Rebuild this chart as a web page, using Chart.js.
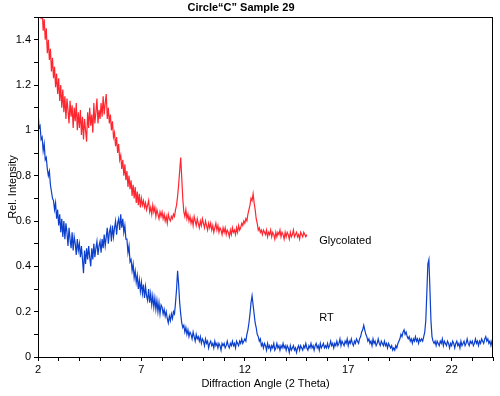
<!DOCTYPE html>
<html>
<head>
<meta charset="utf-8">
<script src="https://cdn.jsdelivr.net/npm/chart.js@4/dist/chart.umd.min.js"></script>
<style>
  html, body { margin: 0; padding: 0; background: #fff; }
  canvas { display: block; }
</style>
</head>
<body>
<canvas id="xrd" width="500" height="396"></canvas>
<script>
// scan grid: 2 theta from 2 degrees, one reading every 0.05 degree
const angleStart = 2.0
const angleStep = 0.05

// one row per degree (20 readings)
const rtValues = [
  1.09, 1.01, 1.02, 0.96, 0.97, 0.91, 0.94, 0.87, 0.88, 0.83, 0.80, 0.82, 0.76, 0.73, 0.70, 0.69, 0.65, 0.68, 0.61, 0.65,
  0.58, 0.63, 0.55, 0.61, 0.53, 0.60, 0.52, 0.59, 0.55, 0.49, 0.57, 0.52, 0.48, 0.55, 0.47, 0.53, 0.50, 0.45, 0.52, 0.47,
  0.50, 0.44, 0.49, 0.43, 0.37, 0.47, 0.41, 0.48, 0.43, 0.49, 0.44, 0.40, 0.48, 0.43, 0.50, 0.44, 0.48, 0.51, 0.45, 0.49,
  0.51, 0.46, 0.52, 0.48, 0.54, 0.49, 0.53, 0.57, 0.50, 0.55, 0.57, 0.51, 0.58, 0.53, 0.57, 0.60, 0.54, 0.59, 0.61, 0.56,
  0.63, 0.57, 0.61, 0.55, 0.58, 0.52, 0.52, 0.46, 0.49, 0.42, 0.43, 0.38, 0.41, 0.35, 0.38, 0.33, 0.36, 0.30, 0.34, 0.29,
  0.33, 0.28, 0.32, 0.26, 0.31, 0.27, 0.25, 0.30, 0.24, 0.28, 0.23, 0.27, 0.22, 0.26, 0.21, 0.25, 0.20, 0.24, 0.19, 0.23,
  0.22, 0.19, 0.21, 0.18, 0.20, 0.17, 0.15, 0.18, 0.16, 0.19, 0.17, 0.20, 0.19, 0.24, 0.30, 0.38, 0.32, 0.24, 0.19, 0.15,
  0.13, 0.14, 0.11, 0.13, 0.10, 0.12, 0.09, 0.11, 0.10, 0.08, 0.11, 0.09, 0.07, 0.10, 0.08, 0.09, 0.07, 0.09, 0.06, 0.08,
  0.07, 0.05, 0.08, 0.06, 0.07, 0.04, 0.06, 0.07, 0.05, 0.06, 0.04, 0.07, 0.05, 0.06, 0.04, 0.06, 0.05, 0.03, 0.06, 0.05,
  0.06, 0.04, 0.05, 0.07, 0.05, 0.04, 0.06, 0.05, 0.07, 0.05, 0.06, 0.04, 0.07, 0.06, 0.05, 0.07, 0.06, 0.08, 0.06, 0.07,
  0.08, 0.07, 0.10, 0.12, 0.15, 0.19, 0.24, 0.27, 0.23, 0.19, 0.15, 0.13, 0.10, 0.09, 0.07, 0.08, 0.05, 0.06, 0.04, 0.06,
  0.05, 0.03, 0.06, 0.04, 0.05, 0.03, 0.05, 0.04, 0.06, 0.03, 0.04, 0.06, 0.04, 0.05, 0.03, 0.05, 0.04, 0.06, 0.04, 0.05,
  0.03, 0.05, 0.04, 0.02, 0.05, 0.03, 0.04, 0.05, 0.03, 0.04, 0.02, 0.04, 0.05, 0.03, 0.05, 0.04, 0.03, 0.05, 0.04, 0.06,
  0.04, 0.03, 0.05, 0.04, 0.06, 0.04, 0.05, 0.03, 0.05, 0.06, 0.04, 0.05, 0.03, 0.06, 0.04, 0.05, 0.06, 0.04, 0.05, 0.04,
  0.06, 0.04, 0.05, 0.07, 0.05, 0.06, 0.04, 0.06, 0.05, 0.07, 0.05, 0.06, 0.08, 0.05, 0.07, 0.06, 0.05, 0.07, 0.06, 0.08,
  0.05, 0.07, 0.06, 0.08, 0.06, 0.05, 0.07, 0.06, 0.08, 0.07, 0.06, 0.08, 0.09, 0.11, 0.12, 0.14, 0.12, 0.10, 0.09, 0.07,
  0.08, 0.06, 0.07, 0.05, 0.08, 0.06, 0.07, 0.05, 0.06, 0.08, 0.06, 0.05, 0.07, 0.06, 0.05, 0.07, 0.05, 0.06, 0.04, 0.06,
  0.05, 0.04, 0.05, 0.03, 0.04, 0.03, 0.05, 0.04, 0.06, 0.07, 0.08, 0.10, 0.09, 0.11, 0.12, 0.10, 0.11, 0.09, 0.08, 0.09,
  0.07, 0.08, 0.06, 0.08, 0.07, 0.09, 0.07, 0.08, 0.06, 0.08, 0.07, 0.08, 0.07, 0.09, 0.11, 0.16, 0.28, 0.41, 0.43, 0.30,
  0.16, 0.09, 0.07, 0.06, 0.07, 0.05, 0.07, 0.06, 0.05, 0.07, 0.06, 0.08, 0.05, 0.07, 0.06, 0.05, 0.07, 0.06, 0.04, 0.06,
  0.05, 0.07, 0.06, 0.04, 0.06, 0.07, 0.05, 0.06, 0.04, 0.07, 0.05, 0.06, 0.07, 0.05, 0.06, 0.08, 0.06, 0.05, 0.07, 0.06,
  0.07, 0.05, 0.06, 0.08, 0.06, 0.07, 0.05, 0.07, 0.06, 0.08, 0.07, 0.06, 0.08, 0.09, 0.07, 0.08, 0.06, 0.07, 0.05, 0.07,
  0.06
]

const glycolatedValues = [
  1.62, 1.57, 1.55, 1.49, 1.54, 1.44, 1.49, 1.40, 1.45, 1.34, 1.40, 1.31, 1.36, 1.26, 1.32, 1.23, 1.28, 1.19, 1.25, 1.16,
  1.23, 1.13, 1.20, 1.10, 1.18, 1.08, 1.15, 1.05, 1.14, 1.09, 1.03, 1.13, 1.06, 1.11, 1.01, 1.10, 1.04, 1.12, 1.00, 1.08,
  1.01, 1.09, 0.98, 1.06, 0.96, 1.05, 1.00, 0.95, 1.08, 1.01, 1.10, 1.02, 1.07, 0.99, 1.12, 1.03, 1.08, 1.14, 1.03, 1.09,
  1.05, 1.12, 1.06, 1.15, 1.07, 1.12, 1.16, 1.05, 1.10, 1.03, 1.07, 1.00, 1.04, 0.97, 0.99, 0.93, 0.97, 0.90, 0.94, 0.87,
  0.89, 0.83, 0.87, 0.80, 0.85, 0.78, 0.82, 0.75, 0.80, 0.74, 0.78, 0.71, 0.76, 0.70, 0.75, 0.68, 0.73, 0.67, 0.72, 0.66,
  0.70, 0.67, 0.69, 0.66, 0.68, 0.65, 0.67, 0.69, 0.64, 0.66, 0.63, 0.67, 0.64, 0.66, 0.62, 0.65, 0.63, 0.61, 0.64, 0.62,
  0.64, 0.61, 0.63, 0.60, 0.62, 0.59, 0.63, 0.61, 0.60, 0.62, 0.61, 0.63, 0.62, 0.65, 0.67, 0.71, 0.76, 0.82, 0.88, 0.79,
  0.70, 0.64, 0.62, 0.65, 0.61, 0.63, 0.60, 0.62, 0.59, 0.61, 0.58, 0.62, 0.60, 0.58, 0.61, 0.59, 0.57, 0.60, 0.58, 0.61,
  0.59, 0.57, 0.60, 0.58, 0.56, 0.59, 0.57, 0.59, 0.56, 0.58, 0.55, 0.57, 0.59, 0.56, 0.58, 0.55, 0.57, 0.56, 0.54, 0.57,
  0.55, 0.57, 0.54, 0.56, 0.55, 0.53, 0.56, 0.54, 0.57, 0.55, 0.56, 0.54, 0.57, 0.55, 0.58, 0.56, 0.57, 0.59, 0.58, 0.60,
  0.59, 0.61, 0.60, 0.63, 0.65, 0.67, 0.70, 0.69, 0.72, 0.68, 0.65, 0.61, 0.59, 0.56, 0.57, 0.55, 0.56, 0.54, 0.56, 0.55,
  0.54, 0.56, 0.53, 0.55, 0.54, 0.56, 0.53, 0.55, 0.54, 0.52, 0.55, 0.53, 0.55, 0.54, 0.56, 0.53, 0.55, 0.54, 0.52, 0.55,
  0.53, 0.55, 0.54, 0.52, 0.55, 0.53, 0.54, 0.56, 0.53, 0.54, 0.55, 0.53, 0.54, 0.52, 0.55, 0.54, 0.53, 0.55, 0.54, 0.53,
  0.54
]

const xTickLabels = [2, 7, 12, 17, 22]
const yTickLabels = [0, 0.2, 0.4, 0.6, 0.8, 1, 1.2, 1.4]

const seriesLabels = ['Glycolated', 'RT']
const seriesLabelAt = [[15.6, 0.51], [15.6, 0.17]]

const FONT = '"Liberation Sans", Arial, sans-serif'

const toPoints = (values) => values.map((v, i) => ({ x: +(angleStart + i * angleStep).toFixed(2), y: v }))

const hasTick = (list, v) => list.some(t => Math.abs(t - v) < 1e-6)

const framePlugin = {
    id: 'frame',
    afterDraw(chart) {
        const { ctx, chartArea: a, scales } = chart
        ctx.save()
        ctx.strokeStyle = '#000'
        ctx.lineWidth = 1
        ctx.strokeRect(Math.round(a.left) + 0.5, Math.round(a.top) + 0.5,
            Math.round(a.right - a.left) - 1, Math.round(a.bottom - a.top))

        ctx.fillStyle = '#000'
        ctx.font = '11px ' + FONT
        ctx.textBaseline = 'middle'
        ctx.textAlign = 'left'
        seriesLabels.forEach((t, i) => {
            const [x, y] = seriesLabelAt[i]
            ctx.fillText(t, scales.x.getPixelForValue(x), scales.y.getPixelForValue(y))
        })

        ctx.font = 'bold 11px ' + FONT
        ctx.textAlign = 'center'
        ctx.fillText('Circle\u201CC\u201D Sample 29', 241, 8)
        ctx.restore()
    }
}

new Chart(document.getElementById('xrd').getContext('2d'), {
    type: 'line',
    data: {
        datasets: [{
            label: 'Glycolated',
            data: toPoints(glycolatedValues),
            borderColor: '#ff2630',
            borderWidth: 1.2,
            pointRadius: 0,
            tension: 0,
            fill: false,
        }, {
            label: 'RT',
            data: toPoints(rtValues),
            borderColor: '#0b3fcc',
            borderWidth: 1.2,
            pointRadius: 0,
            tension: 0,
            fill: false,
        }]
    },
    options: {
        responsive: false,
        devicePixelRatio: 1,
        animation: false,
        layout: { padding: { top: 17, right: 7, left: 0, bottom: 0 } },
        plugins: {
            legend: { display: false },
            tooltip: { enabled: false },
        },
        scales: {
            x: {
                type: 'linear',
                min: 2,
                max: 24,
                afterFit: (s) => { s.height = 39 },
                border: { color: '#000', width: 1 },
                grid: { drawOnChartArea: false, tickLength: 4, color: '#000' },
                ticks: {
                    stepSize: 1,
                    autoSkip: false,
                    maxRotation: 0,
                    padding: 2,
                    color: '#000',
                    font: { family: FONT, size: 11 },
                    callback: (v) => hasTick(xTickLabels, v) ? String(v) : '',
                },
                title: {
                    display: true,
                    text: 'Diffraction Angle (2 Theta)',
                    color: '#000',
                    font: { family: FONT, size: 11 },
                    padding: { top: 0, bottom: 5 },
                },
            },
            y: {
                min: 0,
                max: 1.5,
                afterFit: (s) => { s.width = 38 },
                border: { color: '#000', width: 1 },
                grid: { drawOnChartArea: false, tickLength: 4, color: '#000' },
                ticks: {
                    stepSize: 0.1,
                    autoSkip: false,
                    padding: 3,
                    color: '#000',
                    font: { family: FONT, size: 11 },
                    callback: (v) => {
                        const t = yTickLabels.find(t => Math.abs(t - v) < 1e-6)
                        return t === undefined ? '' : String(t)
                    },
                },
                title: {
                    display: true,
                    text: 'Rel. Intensity',
                    color: '#000',
                    font: { family: FONT, size: 11 },
                    padding: { top: 6, bottom: 0 },
                },
            },
        },
    },
    plugins: [framePlugin],
})
</script>
</body>
</html>
